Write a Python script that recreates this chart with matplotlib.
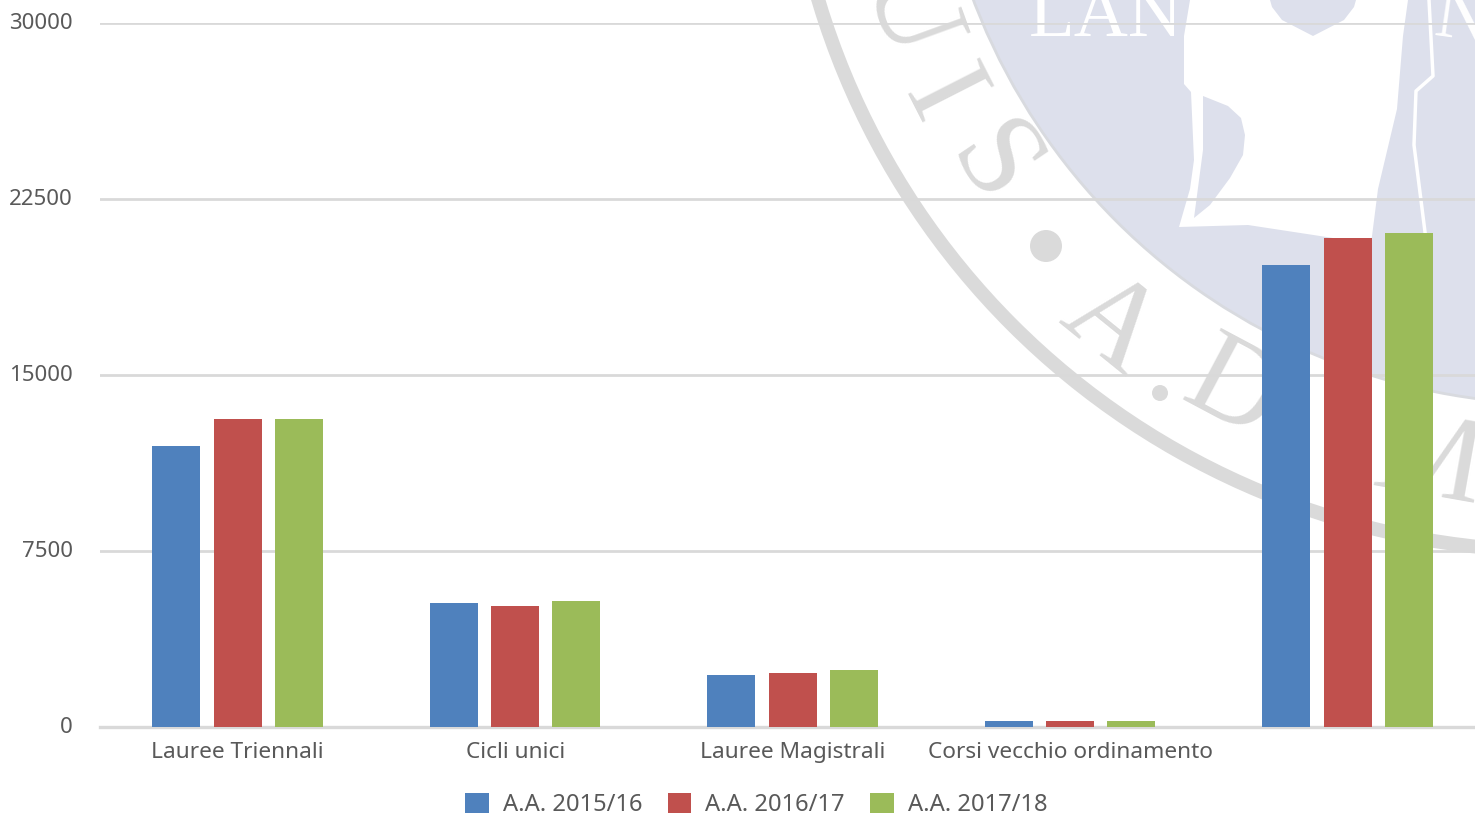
import matplotlib
matplotlib.use("Agg")
import matplotlib.pyplot as plt
from matplotlib.patches import Circle, Polygon
from matplotlib.transforms import ScaledTranslation
import numpy as np

# Dati
categorie = ["Lauree Triennali", "Cicli unici", "Lauree Magistrali", "Corsi vecchio ordinamento", ""]
anni = ["A.A. 2015/16", "A.A. 2016/17", "A.A. 2017/18"]
valori_1516 = [11975, 5285, 2215, 255, 19690]
valori_1617 = [13125, 5155, 2300, 255, 20840]
valori_1718 = [13125, 5370, 2430, 255, 21050]
tick_y = [0, 7500, 15000, 22500, 30000]
colori = ["#4f81bd", "#c0504d", "#9bbb59"]

GRIGIO = "#595959"
SIGILLO = "#dadada"
DISCO = "#dde0ec"
plt.rcParams["font.family"] = "Noto Sans"

fig = plt.figure(figsize=(14.75, 8.15), dpi=100, facecolor="white")

# --- Filigrana (sigillo) in coordinate pixel ---
bg = fig.add_axes([0, 0, 1, 1], zorder=0)
bg.set_xlim(0, 1475)
bg.set_ylim(815, 0)
bg.axis("off")

centro = (1558, -221)
bg.add_patch(Circle(centro, 772, fc="none", ec=SIGILLO, lw=10))
bg.add_patch(Circle(centro, 625, fc=DISCO, ec="#d8dadf", lw=2))

figura = [(1190, 0), (1184, 36), (1184, 84), (1191, 92), (1194, 160), (1190, 189), (1179, 227),
          (1248, 225), (1320, 236), (1371, 244), (1378, 189), (1397, 109), (1403, 36), (1408, 0)]
bg.add_patch(Polygon(figura, fc="white", ec="none"))
mano = [(1203, 96), (1228, 106), (1241, 118), (1245, 135), (1243, 155), (1230, 178),
        (1210, 205), (1194, 218), (1203, 150)]
bg.add_patch(Polygon(mano, fc=DISCO, ec="none"))
scudo = [(1270, 0), (1272, 7), (1282, 20), (1313, 36), (1344, 20), (1354, 7), (1356, 0)]
bg.add_patch(Polygon(scudo, fc=DISCO, ec="none"))
bg.plot([1429, 1433, 1416, 1414, 1425], [0, 76, 91, 145, 232], color="white", lw=2.5)
bg.text(1106, 36, "LAN", family="Liberation Serif", fontsize=54, color="white", ha="center", va="baseline")
bg.text(1462, 42, "N", family="Liberation Serif", fontsize=54, color="white", ha="center", va="baseline", rotation=-8)

lettere = [("U", 905, 12, -70), ("I", 938, 98, -63), ("S", 990, 167, -56),
           ("A", 1110, 327, -39), ("D", 1231, 393, -28), ("M", 1428, 465, -10)]
for let, x, y, rot in lettere:
    bg.text(x, y, let, family="Liberation Serif", fontsize=88, color=SIGILLO,
            ha="center", va="center", rotation=rot)
bg.add_patch(Circle((1046, 246), 16, fc=SIGILLO, ec="none"))
bg.add_patch(Circle((1160, 393), 8, fc=SIGILLO, ec="none"))

# --- Grafico a barre ---
ax = fig.add_axes([100 / 1475, 88 / 815, 1375 / 1475, 704 / 815], zorder=1)
ax.patch.set_alpha(0)
x = np.arange(len(categorie))
for i, (vals, anno) in enumerate(zip([valori_1516, valori_1617, valori_1718], anni)):
    ax.bar(x + (i - 1) * 0.2205, vals, width=0.173, color=colori[i], label=anno, zorder=3)

# l'ultima categoria esce dal bordo destro: passo 277.5 px
ax.set_xlim(-0.496, -0.496 + 1375 / 277.5)
ax.set_ylim(0, 30000)
ax.set_yticks(tick_y)
ax.set_yticklabels([str(t) for t in tick_y])
ax.set_xticks(x)
ax.set_xticklabels(categorie)
ax.tick_params(axis="both", length=0, labelcolor=GRIGIO, labelsize=16.3)
ax.tick_params(axis="y", pad=19.5, labelsize=16)
ax.tick_params(axis="x", pad=11)
offset = ScaledTranslation(0, 2 / 100, fig.dpi_scale_trans)
for lab in ax.get_yticklabels():
    lab.set_transform(lab.get_transform() + offset)
ax.grid(axis="y", color="#d9d9d9", lw=2, zorder=1)
ax.set_axisbelow(True)
for s in ["top", "right", "left"]:
    ax.spines[s].set_visible(False)
ax.spines["bottom"].set_color("#d9d9d9")
ax.spines["bottom"].set_linewidth(2.4)

leg = fig.legend(loc="lower left", bbox_to_anchor=(446 / 1475, -21 / 815), ncol=3, frameon=False,
                 fontsize=17.1, labelcolor=GRIGIO, handlelength=1.0, handleheight=0.92,
                 handletextpad=0.58, columnspacing=1.08, borderpad=0.3)

fig.savefig("out.png", dpi=100)
